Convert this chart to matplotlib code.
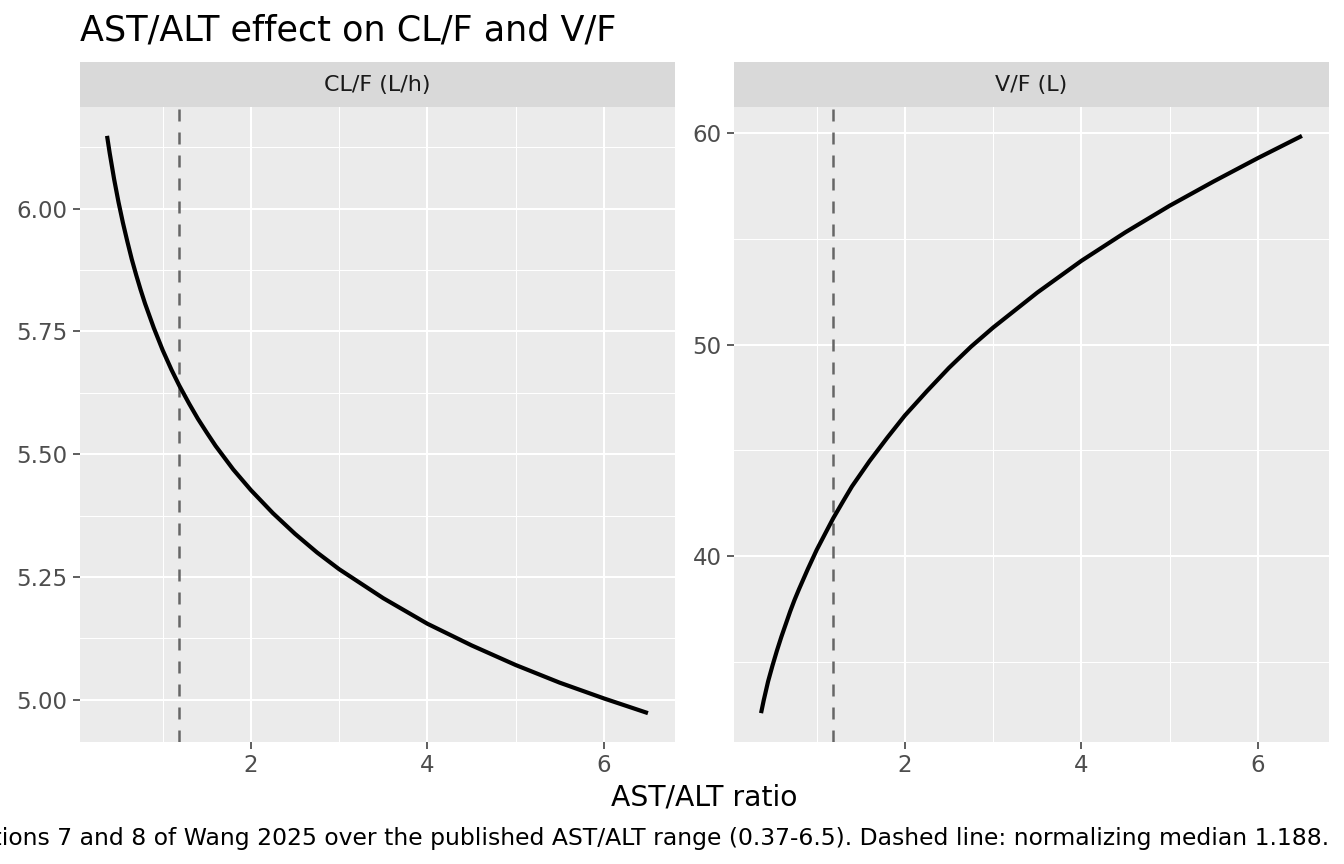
import numpy as np
import matplotlib
matplotlib.use("Agg")
from matplotlib import pyplot as plt
from matplotlib.ticker import FixedLocator

# values
ratio = [0.37, 0.40, 0.45, 0.5, 0.55, 0.6, 0.65, 0.7, 0.75, 0.8, 0.9, 1.0,
         1.1, 1.188, 1.3, 1.4, 1.5, 1.6, 1.8, 2.0, 2.25, 2.5, 2.75, 3.0,
         3.5, 4.0, 4.5, 5.0, 5.5, 6.0, 6.5]
cl_f = [6.148, 6.113, 6.060, 6.013, 5.971, 5.933, 5.897, 5.865, 5.835, 5.807,
        5.757, 5.712, 5.672, 5.640, 5.603, 5.572, 5.544, 5.517, 5.469, 5.427,
        5.380, 5.338, 5.300, 5.266, 5.207, 5.155, 5.111, 5.071, 5.035, 5.003,
        4.973]
v_f = [32.6, 33.2, 34.1, 34.85, 35.55, 36.2, 36.8, 37.4, 37.95, 38.45, 39.4,
       40.3, 41.1, 41.8, 42.6, 43.3, 43.9, 44.5, 45.6, 46.65, 47.8, 48.9,
       49.9, 50.8, 52.45, 53.95, 55.3, 56.55, 57.7, 58.8, 59.85]
median_ratio = 1.188

facets = ["CL/F (L/h)", "V/F (L)"]
series = [cl_f, v_f]
y_major = [[5.00, 5.25, 5.50, 5.75, 6.00], [40, 50, 60]]
y_minor = [[4.875, 5.125, 5.375, 5.625, 5.875, 6.125], [35, 45, 55]]
y_fmt = ["{:.2f}", "{:.0f}"]
x_major = [2, 4, 6]
x_minor = [1, 3, 5]

title = "AST/ALT effect on CL/F and V/F"
xlabel = "AST/ALT ratio"
caption = ("Curves: equations 7 and 8 of Wang 2025 over the published AST/ALT "
           "range (0.37-6.5). Dashed line: normalizing median 1.188.")

W, H = 1344, 864
fig = plt.figure(figsize=(W / 100, H / 100), dpi=100)


def frac(x0, y0, x1, y1):
    # pixel box (top-left origin) -> figure fraction rect
    return [x0 / W, 1 - y1 / H, (x1 - x0) / W, (y1 - y0) / H]


def expand(vals):
    lo, hi = min(vals), max(vals)
    pad = (hi - lo) * 0.05
    return lo - pad, hi + pad


panels = [(80, 675), (734, 1329)]
for (px0, px1), name, ys, ymaj, ymin, fmt in zip(panels, facets, series,
                                                  y_major, y_minor, y_fmt):
    ax = fig.add_axes(frac(px0, 107, px1, 742))
    ax.set_facecolor("#EBEBEB")
    for s in ax.spines.values():
        s.set_visible(False)
    ax.set_xlim(*expand(ratio))
    ax.set_ylim(*expand(ys))
    ax.xaxis.set_major_locator(FixedLocator(x_major))
    ax.xaxis.set_minor_locator(FixedLocator(x_minor))
    ax.yaxis.set_major_locator(FixedLocator(ymaj))
    ax.yaxis.set_minor_locator(FixedLocator(ymin))
    ax.set_xticklabels([str(v) for v in x_major])
    ax.set_yticklabels([fmt.format(v) for v in ymaj])
    ax.grid(which="major", color="white", lw=1.5)
    ax.grid(which="minor", color="white", lw=0.75)
    ax.set_axisbelow(True)
    ax.tick_params(which="major", length=5, width=1.1, color="#333333",
                   labelcolor="#4D4D4D", labelsize=16.5, pad=4)
    ax.tick_params(which="minor", length=0)

    ax.axvline(median_ratio, color="#666666", lw=1.8, ls=(0, (4.8, 4.4)))
    ax.plot(ratio, ys, color="black", lw=3.0, solid_capstyle="butt",
            solid_joinstyle="round")

    strip = fig.add_axes(frac(px0, 62, px1, 107))
    strip.set_facecolor("#D9D9D9")
    strip.set_xticks([])
    strip.set_yticks([])
    for s in strip.spines.values():
        s.set_visible(False)
    strip.text(0.5, 0.5, name, ha="center", va="center", fontsize=16,
               color="#1A1A1A", transform=strip.transAxes)

fig.text(80 / W, 1 - 31 / H, title, ha="left", va="center", fontsize=25.2,
         color="black")
fig.text(((80 + 1329) / 2) / W, 1 - 797 / H, xlabel, ha="center",
         va="center", fontsize=20.3, color="black")
fig.text(1329 / W, 1 - 838 / H, caption, ha="right", va="center",
         fontsize=16.9, color="black")

fig.savefig("out.png", dpi=100)
